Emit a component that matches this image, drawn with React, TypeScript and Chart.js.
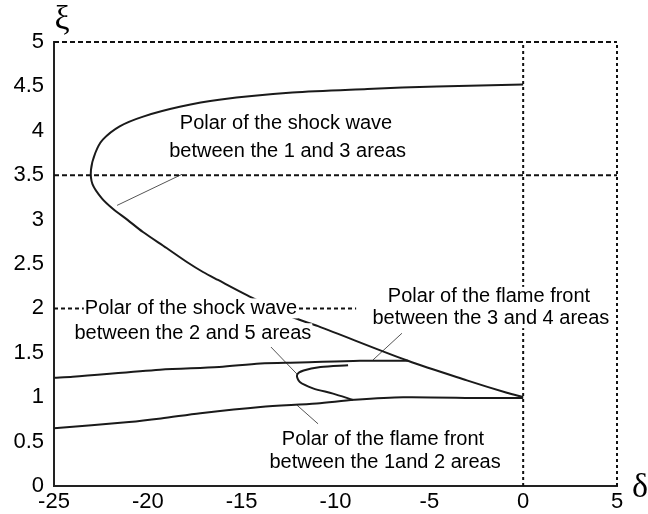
import React, { useEffect, useRef } from "react";
import { Chart, registerables } from "chart.js";

Chart.register(...registerables);

// Axis ranges / ticks
const X_MIN = -25;
const X_MAX = 5;
const X_STEP = 5;
const Y_MIN = 0;
const Y_MAX = 5;
const Y_STEP = 0.5;

// Polar of the shock wave between the 1 and 3 areas (δ, ξ)
const shock13X = [0, -4.6, -8.3, -12.3, -16.2, -18.3, -20.25, -21.5, -22.4, -22.8, -23.03, -22.95, -22.45, -21.85, -21.1, -20.26, -19.0, -17.9, -17.06, -16.26, -14.72, -12.27, -10.93, -6.14, -3.0, -0.87, 0];
const shock13Y = [4.52, 4.5, 4.47, 4.43, 4.35, 4.27, 4.16, 4.05, 3.9, 3.75, 3.56, 3.4, 3.24, 3.12, 3.0, 2.86, 2.68, 2.52, 2.41, 2.32, 2.15, 1.9, 1.8, 1.41, 1.19, 1.05, 1.0];

// Polar of the flame front between the 3 and 4 areas
const flame34X = [-25, -24, -19.35, -16.2, -14.0, -11.9, -8.7, -6.14];
const flame34Y = [1.22, 1.23, 1.31, 1.34, 1.38, 1.39, 1.41, 1.41];

// Polar of the shock wave between the 2 and 5 areas (small loop)
const shock25X = [-9.33, -10.8, -11.7, -12.05, -11.9, -11.2, -10.13, -9.07];
const shock25Y = [1.36, 1.34, 1.3, 1.25, 1.17, 1.1, 1.04, 0.97];

// Polar of the flame front between the 1 and 2 areas
const flame12X = [-25, -21, -19.3, -17.2, -14, -11, -9, -6.4, -2, 0];
const flame12Y = [0.65, 0.72, 0.76, 0.82, 0.89, 0.93, 0.97, 1.0, 0.99, 0.99];

// Reference dashed lines
const dashH5X = [-25, 5];
const dashH5Y = [5, 5];
const dashH35X = [-25, 5];
const dashH35Y = [3.5, 3.5];
const dashH2X = [-25, -8.9];
const dashH2Y = [2, 2];
const dashV0X = [0, 0];
const dashV0Y = [0, 5];
const dashV5X = [5, 5];
const dashV5Y = [0, 5];

// Leader lines [x1, y1, x2, y2]
const leader13 = [-18.18, 3.51, -21.64, 3.16];
const leader25 = [-13.44, 1.565, -12.05, 1.26];
const leader34 = [-6.46, 1.72, -8.0, 1.42];
const leader12 = [-10.93, 0.7, -12.05, 0.91];

// Annotation text lines: text, δ center, ξ center
const annoTexts = ["Polar of the shock wave", "between the 1 and 3 areas", "Polar of the shock wave", "between the 2 and 5 areas", "Polar of the flame front", "between the 3 and 4 areas", "Polar of the flame front", "between the 1and 2 areas"];
const annoX = [-12.64, -12.55, -17.7, -17.6, -1.82, -1.72, -7.47, -7.36];
const annoY = [4.08, 3.77, 2.0, 1.72, 2.13, 1.89, 0.52, 0.27];

const xAxisTitle = "δ";
const yAxisTitle = "ξ";

const pts = (xs: number[], ys: number[]) => xs.map((x, i) => ({ x, y: ys[i] }));

export default function App() {
  const ref = useRef<HTMLCanvasElement | null>(null);

  useEffect(() => {
    if (!ref.current) return;
    const curve = (xs: number[], ys: number[]) => ({
      data: pts(xs, ys),
      showLine: true,
      borderColor: "#1a1a1a",
      borderWidth: 2,
      pointRadius: 0,
      tension: 0.3,
      fill: false,
    });
    const dashed = (xs: number[], ys: number[], dash: number[]) => ({
      data: pts(xs, ys),
      showLine: true,
      borderColor: "#111",
      borderWidth: 2,
      borderDash: dash,
      pointRadius: 0,
      tension: 0,
      clip: false,
    });
    const leader = (l: number[]) => ({
      data: [
        { x: l[0], y: l[1] },
        { x: l[2], y: l[3] },
      ],
      showLine: true,
      borderColor: "#555",
      borderWidth: 1,
      pointRadius: 0,
      tension: 0,
    });

    const textPlugin = {
      id: "annoText",
      afterDatasetsDraw(chart: any) {
        const { ctx, scales } = chart;
        ctx.save();
        ctx.font = "20px 'Liberation Sans', Arial, sans-serif";
        ctx.textAlign = "center";
        ctx.textBaseline = "middle";
        annoTexts.forEach((t, i) => {
          const px = scales.x.getPixelForValue(annoX[i]);
          const py = scales.y.getPixelForValue(annoY[i]);
          const w = ctx.measureText(t).width;
          ctx.fillStyle = "#fff";
          ctx.fillRect(px - w / 2 - 1, py - 10, w + 2, 20);
          ctx.fillStyle = "#000";
          ctx.fillText(t, px, py);
        });
        // axis symbols
        ctx.font = "34px 'Liberation Serif', 'DejaVu Serif', serif";
        ctx.textAlign = "center";
        ctx.fillText(yAxisTitle, chart.chartArea.left + 8, 20);
        ctx.fillText(xAxisTitle, chart.chartArea.right + 23, chart.chartArea.bottom + 2);
        ctx.restore();
      },
    };

    const chart = new Chart(ref.current, {
      type: "scatter",
      data: {
        datasets: [
          dashed(dashH5X, dashH5Y, [5, 3]),
          dashed(dashH35X, dashH35Y, [5, 3]),
          dashed(dashH2X, dashH2Y, [4, 3]),
          dashed(dashV0X, dashV0Y, [3, 3]),
          dashed(dashV5X, dashV5Y, [3, 3]),
          curve(shock13X, shock13Y),
          curve(flame34X, flame34Y),
          curve(shock25X, shock25Y),
          curve(flame12X, flame12Y),
          leader(leader13),
          leader(leader25),
          leader(leader34),
          leader(leader12),
        ] as any,
      },
      options: {
        animation: false,
        responsive: false,
        maintainAspectRatio: false,
        layout: { padding: { left: 0, top: 42, right: 31, bottom: 0 } },
        plugins: { legend: { display: false }, tooltip: { enabled: false } },
        scales: {
          x: {
            type: "linear",
            min: X_MIN,
            max: X_MAX,
            ticks: {
              stepSize: X_STEP,
              color: "#000",
              padding: 3,
              font: { family: "'Liberation Sans', Arial, sans-serif", size: 22 },
              callback: (v: any) => String(Number(v)),
            },
            grid: { display: false, drawTicks: false },
            border: { display: true, color: "#222", width: 2 },
            afterFit: (s: any) => {
              s.height = 28;
            },
          },
          y: {
            type: "linear",
            min: Y_MIN,
            max: Y_MAX,
            ticks: {
              stepSize: Y_STEP,
              color: "#000",
              padding: 10,
              font: { family: "'Liberation Sans', Arial, sans-serif", size: 22 },
              callback: (v: any) => String(Number(v)),
            },
            grid: { display: false, drawTicks: false },
            border: { display: true, color: "#222", width: 2 },
            afterFit: (s: any) => {
              s.width = 54;
            },
          },
        },
      },
      plugins: [textPlugin],
    });
    return () => chart.destroy();
  }, []);

  return (
    <div style={{ position: "fixed", left: 0, top: 0, width: 648, height: 514, background: "#fff" }}>
      <canvas ref={ref} width={648} height={514} />
    </div>
  );
}
